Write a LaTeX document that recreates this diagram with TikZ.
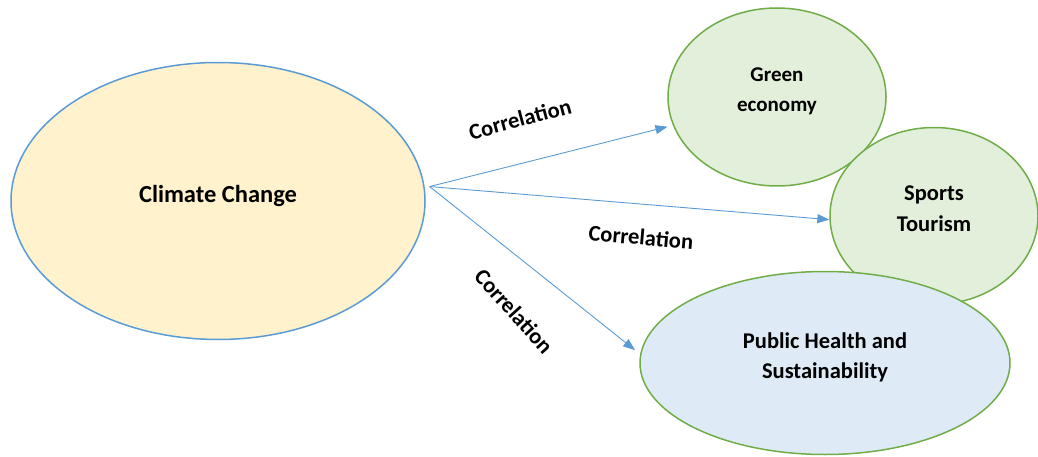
\documentclass[tikz,border=0pt]{standalone}
\usepackage{fontspec}
\setmainfont{Carlito}
\usetikzlibrary{shapes.geometric,arrows.meta,calc}
\definecolor{bluel}{HTML}{5B9BD5}
\definecolor{greenl}{HTML}{70AD47}
\definecolor{yellowf}{HTML}{FFF2CC}
\definecolor{greenf}{HTML}{E2EFDA}
\definecolor{bluef}{HTML}{DEEBF7}
\tikzset{
  bubble/.style={ellipse, line width=1.5pt, inner sep=0pt, align=center,
    font=\bfseries\fontsize{22.5}{30}\selectfont, text depth=14pt},
  conn/.style={draw=bluel, line width=0.9pt, -{Triangle[length=12pt,width=9pt]}},
  rel/.style={font=\bfseries\fontsize{22.5}{26}\selectfont}
}
\begin{document}
\begin{tikzpicture}[x=1pt,y=1pt]
\useasboundingbox (0,0) rectangle (1038,-457);
\node[bubble, draw=bluel, fill=yellowf, minimum width=414pt, minimum height=277pt, font=\bfseries\fontsize{24.5}{30}\selectfont] (cc) at (218,-201) {Climate Change};
\node[bubble, draw=greenl, fill=greenf, minimum width=218pt, minimum height=178pt, font=\bfseries\fontsize{21}{30}\selectfont] (ge) at (777,-97) {Green\\economy};
\node[bubble, draw=greenl, fill=greenf, minimum width=208pt, minimum height=177pt, font=\bfseries\fontsize{22.5}{31}\selectfont] (st) at (934,-216) {Sports\\Tourism};
\node[bubble, draw=greenl, fill=bluef, minimum width=370pt, minimum height=183pt] (ph) at (825,-363) {Public Health and\\Sustainability};
\coordinate (src) at ($(cc.4)+(5,0)$);
\draw[conn] (src) -- ($(ge.196)+(-6,0)$);
\draw[conn] (src) -- (st.182);
\draw[conn] (src) -- ($(ph.176)+(-6,0)$);
\node[rel, rotate=15] (l1) at (520,-119) {Correlation};
\node[rel, rotate=-5] (l2) at (641,-237) {Correlation};
\node[rel, rotate=-48] (l3) at (514,-311) {Correlation};
\end{tikzpicture}
\end{document}
